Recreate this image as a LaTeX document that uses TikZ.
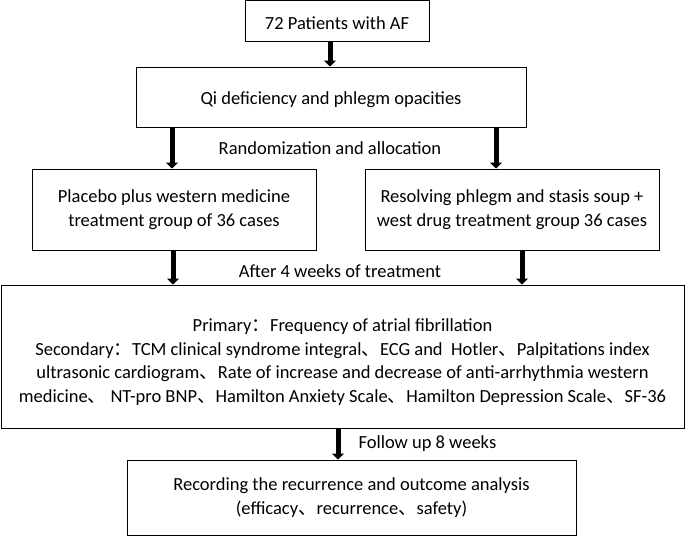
\documentclass[tikz,border=0pt]{standalone}
\usepackage{fontspec}
\setmainfont{Carlito}
\newfontfamily\cjk{Noto Sans CJK SC}
\usetikzlibrary{arrows.meta,positioning}
\tikzset{>={Triangle[width=12pt,length=6pt]}}
\tikzset{box/.style={draw, line width=1pt, align=center, inner sep=0pt,
    execute at begin node=\rule{0pt}{18pt}}}
\tikzset{flow/.style={->, line width=5pt}}
\tikzset{every node/.style={font=\fontsize{18.5}{23.5}\selectfont}}
\newcommand\zhcomma{{\cjk 、}}
\newcommand\zhcolon{{\cjk ：}}

\begin{document}
\begin{tikzpicture}[x=1pt, y=-1pt, align=center]
    \useasboundingbox (0,0) rectangle (685,536);

    %%%% Boxes
    \node[box, minimum width=184pt, minimum height=41pt](pat) at (337, 20.5)      {72 Patients with AF};
    \node[box, minimum width=390pt, minimum height=60pt](qi) at (331, 97)         {Qi deficiency and phlegm opacities};
    \node[box, minimum width=284pt, minimum height=81pt](plac) at (174, 209.5)    {Placebo plus western medicine\\treatment group of 36 cases};
    \node[box, minimum width=294pt, minimum height=81pt](resol) at (512, 209.5)   {Resolving phlegm and stasis soup +\\west drug treatment group 36 cases};
    \node[box, minimum width=683pt, minimum height=143pt](outc) at (342.5, 356.5) {\rule{0pt}{24pt}Primary\zhcolon Frequency of atrial fibrillation\\
      Secondary\zhcolon TCM clinical syndrome integral\zhcomma ECG and~ Hotler\zhcomma Palpitations index\\
      ultrasonic cardiogram\zhcomma Rate of increase and decrease of anti-arrhythmia western\\
      medicine\zhcomma\ NT-pro BNP\zhcomma Hamilton Anxiety Scale\zhcomma Hamilton Depression Scale\zhcomma SF-36};
    \node[box, minimum width=449pt, minimum height=75pt](rec) at (351.5, 497.5)   {Recording the recurrence and outcome analysis\\(efficacy\zhcomma recurrence\zhcomma safety)};

    %%%% Step labels
    \node(rand) at (330, 148)                {Randomization and allocation};
    \node(after) at (340, 271)               {After 4 weeks of treatment};
    \node(fol) [anchor=west] at (355, 444)   {Follow up 8 weeks};

    %%%% Arrows
    \draw [flow] ([xshift=-7pt]pat.south) to ([xshift=-7pt]pat.south |- qi.north);
    \draw [flow] ([xshift=-2pt]plac.north |- qi.south) to ([xshift=-2pt]plac.north);
    \draw [flow] ([xshift=-16pt]resol.north |- qi.south) to ([xshift=-16pt]resol.north);
    \draw [flow] ([xshift=-1pt]plac.south) to ([xshift=-1pt]plac.south |- outc.north);
    \draw [flow] ([xshift=10pt]resol.south) to ([xshift=10pt]resol.south |- outc.north);
    \draw [flow] ([xshift=-13.5pt]rec.north |- outc.south) to ([xshift=-13.5pt]rec.north);

\end{tikzpicture}
\end{document}
